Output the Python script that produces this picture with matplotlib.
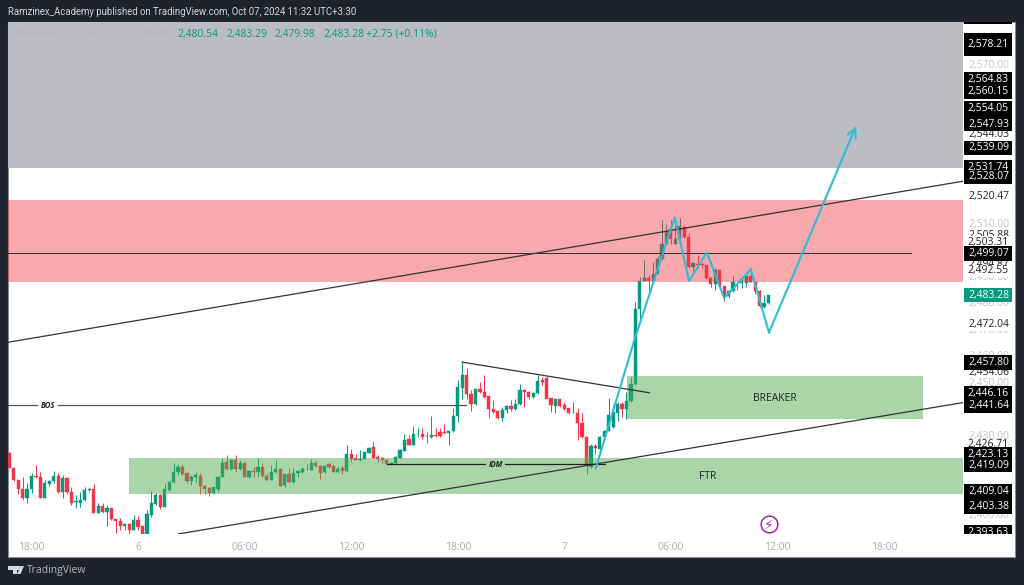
import matplotlib
matplotlib.use("Agg")
import matplotlib.pyplot as plt
from matplotlib.patches import Rectangle, Polygon

# ---- data (15 min ETH/USDT candles) ----
opens = [2423.5,2418.0,2413.4,2409.9,2406.8,2410.0,2415.1,2414.6,2406.8,2411.9,2413.1,2415.1,2408.7,2414.0,2409.0,2405.2,2404.9,2405.8,2409.6,2410.2,
 2401.0,2403.5,2401.3,2402.7,2398.5,2398.0,2396.2,2396.7,2394.7,2398.3,2396.0,2392.7,2400.2,2404.3,2407.7,2403.3,2409.6,2412.5,2416.3,2418.2,
 2415.9,2413.1,2414.4,2415.0,2411.2,2410.5,2408.6,2410.2,2414.6,2420.1,2417.4,2420.9,2417.6,2419.9,2414.6,2416.8,2416.3,2418.4,2415.0,2413.6,
 2416.3,2417.5,2411.5,2415.5,2412.5,2416.0,2416.6,2417.4,2417.3,2420.0,2418.7,2416.3,2419.3,2418.7,2416.5,2417.8,2416.8,2423.4,2421.8,2421.0,
 2421.3,2423.8,2425.8,2422.2,2421.7,2420.9,2419.4,2419.9,2421.9,2424.4,2428.9,2426.7,2430.7,2431.0,2430.0,2429.5,2430.5,2431.4,2431.4,2431.1,
 2431.9,2437.7,2448.3,2453.0,2446.1,2442.3,2447.8,2446.8,2445.1,2440.1,2439.4,2436.7,2439.8,2441.5,2440.1,2442.0,2447.4,2446.8,2444.9,2446.4,
 2451.4,2451.8,2444.5,2441.5,2444.0,2441.7,2440.5,2438.8,2438.9,2435.0,2429.5,2418.2,2426.2,2425.3,2429.5,2432.0,2433.5,2438.8,2442.3,2440.1,
 2443.3,2449.9,2478.2,2488.7,2489.7,2488.6,2491.5,2496.8,2502.8,2508.2,2502.8,2504.7,2509.1,2505.3,2494.0,2495.2,2495.2,2494.6,2489.8,2487.4,
 2492.7,2486.7,2482.9,2484.8,2486.7,2487.9,2487.9,2490.5,2488.3,2484.7,2478.9,2480.4]
highs = [2424.1,2418.4,2413.6,2414.6,2412.1,2415.9,2419.0,2416.5,2413.4,2413.4,2416.9,2416.2,2415.3,2414.4,2410.6,2407.7,2409.0,2410.9,2410.5,2411.9,
 2404.6,2404.8,2403.9,2402.7,2398.5,2398.9,2397.0,2397.0,2400.2,2399.8,2396.0,2402.0,2409.3,2408.6,2408.1,2411.9,2412.8,2419.7,2419.4,2419.4,
 2416.2,2415.3,2416.3,2416.2,2411.5,2410.9,2410.9,2414.9,2421.6,2422.8,2421.2,2422.8,2420.9,2420.2,2417.1,2418.2,2421.9,2419.9,2415.9,2419.0,
 2420.9,2417.8,2415.6,2417.8,2417.8,2417.0,2418.4,2419.3,2421.2,2420.5,2418.8,2419.0,2419.9,2419.3,2418.7,2418.7,2426.8,2425.3,2423.4,2424.7,
 2424.1,2426.0,2428.2,2422.8,2422.2,2421.2,2420.3,2422.4,2425.0,2431.0,2430.4,2433.8,2432.9,2432.9,2431.6,2437.5,2432.9,2433.1,2434.5,2431.9,
 2440.8,2451.2,2458.0,2455.6,2447.6,2448.0,2450.5,2453.0,2445.2,2443.6,2439.8,2441.1,2441.7,2443.6,2444.2,2449.9,2447.8,2447.1,2446.8,2453.0,
 2452.4,2452.7,2444.5,2444.2,2444.2,2443.0,2440.5,2443.0,2440.5,2438.6,2429.5,2427.2,2427.2,2430.0,2432.3,2444.6,2441.7,2443.0,2443.0,2446.8,
 2452.4,2480.8,2490.2,2496.5,2490.8,2495.9,2498.0,2511.9,2510.4,2511.9,2509.7,2512.3,2509.4,2506.8,2495.9,2498.4,2495.5,2494.6,2490.2,2493.7,
 2493.0,2486.9,2485.2,2490.5,2488.3,2490.2,2490.7,2492.7,2488.7,2485.2,2483.3,2483.5]
lows = [2418.0,2413.1,2408.3,2405.8,2404.9,2408.6,2414.0,2406.8,2406.5,2411.1,2412.1,2408.6,2406.5,2408.3,2403.9,2402.7,2403.3,2405.6,2409.0,2400.8,
 2400.8,2401.0,2396.0,2398.3,2393.2,2394.5,2394.7,2392.6,2394.5,2394.7,2392.7,2392.7,2399.3,2403.9,2402.3,2403.3,2409.3,2412.1,2415.3,2415.3,
 2412.4,2411.5,2412.7,2408.3,2408.3,2407.3,2408.1,2409.0,2414.4,2417.2,2417.1,2416.5,2417.1,2414.4,2414.2,2414.4,2414.6,2414.6,2413.4,2413.4,
 2416.1,2411.1,2410.6,2412.5,2412.1,2414.6,2416.1,2417.1,2417.1,2418.4,2413.9,2416.1,2418.0,2416.4,2416.4,2415.6,2416.6,2420.3,2420.8,2420.7,
 2421.2,2423.7,2421.8,2420.3,2419.7,2419.2,2419.2,2419.4,2421.8,2424.3,2426.5,2426.5,2429.5,2429.1,2427.5,2429.4,2429.7,2429.7,2430.7,2426.8,
 2431.6,2435.4,2444.0,2444.2,2439.6,2441.7,2446.5,2444.6,2436.7,2438.9,2436.4,2435.8,2438.9,2439.6,2439.8,2441.7,2441.1,2444.2,2444.4,2446.1,
 2449.3,2444.0,2439.2,2438.6,2441.1,2439.8,2438.3,2438.6,2428.7,2429.4,2415.6,2417.8,2423.4,2424.1,2429.1,2431.8,2432.9,2435.8,2437.3,2436.3,
 2443.0,2449.5,2474.4,2488.6,2483.6,2488.4,2491.2,2496.5,2502.5,2502.8,2502.5,2504.4,2505.1,2493.7,2492.5,2493.7,2493.7,2489.6,2486.4,2485.4,
 2486.4,2481.1,2482.4,2484.5,2485.2,2486.2,2486.4,2488.1,2483.9,2478.9,2478.6,2480.1]
closes = [2418.0,2413.4,2409.9,2406.5,2410.0,2415.1,2414.4,2406.8,2412.1,2413.1,2415.1,2408.7,2414.0,2409.0,2404.9,2405.4,2405.8,2409.6,2410.2,2401.0,
 2403.5,2401.3,2402.7,2398.5,2398.0,2396.1,2396.7,2394.7,2398.3,2395.5,2392.7,2400.5,2404.6,2407.7,2403.3,2410.0,2412.5,2416.4,2418.2,2415.6,
 2413.0,2414.4,2415.3,2411.2,2410.0,2408.6,2410.6,2414.6,2419.9,2417.4,2420.9,2417.5,2419.9,2414.6,2416.8,2416.3,2418.4,2414.9,2413.6,2416.4,
 2417.5,2411.3,2415.5,2412.7,2416.0,2416.8,2417.4,2417.5,2419.9,2418.7,2416.1,2418.7,2418.4,2416.5,2417.4,2416.8,2423.4,2421.5,2421.0,2421.2,
 2423.9,2425.7,2421.9,2421.4,2420.9,2419.4,2420.0,2422.1,2424.6,2428.7,2426.7,2430.7,2431.0,2429.6,2429.9,2430.5,2429.9,2429.9,2431.1,2431.9,
 2437.7,2448.4,2453.0,2445.9,2442.3,2447.8,2446.8,2444.9,2440.1,2439.2,2436.7,2439.8,2441.5,2440.1,2442.0,2447.4,2446.8,2444.9,2446.4,2450.9,
 2450.5,2444.2,2441.7,2444.0,2441.5,2440.2,2438.6,2438.9,2434.8,2429.5,2419.0,2426.2,2425.7,2429.7,2432.0,2437.9,2439.2,2442.3,2440.4,2443.3,
 2449.9,2478.2,2488.6,2489.7,2488.7,2491.5,2496.8,2502.8,2507.5,2504.7,2504.7,2509.5,2505.3,2494.0,2495.5,2494.6,2494.6,2489.8,2487.4,2492.7,
 2486.7,2482.9,2484.8,2488.2,2486.9,2488.4,2490.5,2488.3,2484.7,2479.1,2480.4,2483.3]

time_ticks = [5, 29, 53, 77, 101, 125, 149, 173, 197]
time_labels = ["18:00", "6", "06:00", "12:00", "18:00", "7", "06:00", "12:00", "18:00"]

gray_zone = (2531.3, 2600.0)
red_zone = (2488.2, 2519.2)
breaker_zone = (139.1, 205.9, 2436.4, 2452.7)
ftr_zone = (27.0, 216.0, 2408.1, 2421.6)

trend1_x, trend1_y = [-0.3, 214.8], [2465.5, 2526.4]
trend2_x, trend2_y = [38.0, 214.8], [2393.0, 2442.7]
hline_x, hline_y = [-0.3, 203.1], [2499.07, 2499.07]
wedge_x, wedge_y = [102.0, 144.2], [2458.0, 2446.4]
bos_price = 2441.7
bos_segments = [(-0.3, 6.2), (11.0, 102.9)]
idm_price = 2419.3
idm_segments = [(85.0, 107.2), (111.7, 134.2)]

path_x = [132.1, 140.7, 149.9, 153.1, 157.1, 161.0, 167.0, 171.1]
path_y = [2417.9, 2465.9, 2512.8, 2488.6, 2499.5, 2482.2, 2493.1, 2469.2]
arrow_end = (190.7, 2547.2)

grey_ticks = [2570, 2510, 2490, 2480, 2470, 2460, 2450, 2440, 2430, 2410, 2400]
plain_labels = [2544.03, 2520.47, 2505.88, 2503.31, 2494.87, 2492.55, 2472.04, 2454.06, 2426.71]
black_labels = [2578.21, 2564.83, 2560.15, 2554.05, 2547.93, 2539.09, 2531.74, 2528.07,
                2499.07, 2457.80, 2446.16, 2441.64, 2423.13, 2419.09, 2409.04, 2403.38, 2393.63]
hidden_boxes = [2588.40, 2579.60, 2576.30, 2551.20]
last_price = 2483.28
ohlc_labels = ["2,480.54", "2,483.29", "2,479.98", "2,483.28", "+2.75 (+0.11%)"]
ohlc_px = [177, 226, 274, 323, 366]

# ---- style ----
W, H = 1024, 585
BG = "#1e222d"
UP = "#089981"
DOWN = "#f23645"
FONT = "Open Sans"
plt.rcParams["font.family"] = [FONT, "DejaVu Sans"]


def fx(x):
    return x / W


def fy(y):
    return 1 - y / H


def box(l, t, r, b):
    return [fx(l), fy(b), (r - l) / W, (b - t) / H]


fig = plt.figure(figsize=(W / 100, H / 100), dpi=100, facecolor=BG)
fig.add_artist(Rectangle((fx(8), fy(556.5)), 1007 / W, 534.5 / H, transform=fig.transFigure,
                         facecolor="white", edgecolor="#8a8d96", linewidth=0.8, zorder=-5))

ax = fig.add_axes(box(8, 22, 963, 534), facecolor="none")
ax.set_xlim(-0.3, 214.8)
ax.set_ylim(2393.0, 2586.6)
for s in ax.spines.values():
    s.set_visible(False)
ax.set_yticks([])
ax.set_xticks(time_ticks)
ax.set_xticklabels(time_labels, fontsize=7.5, color="#a8abb4")
ax.tick_params(axis="x", length=0, pad=6)

# candles
xs = list(range(len(opens)))
cols = [UP if c >= o else DOWN for o, c in zip(opens, closes)]
ax.vlines(xs, lows, highs, colors=cols, linewidth=0.7, zorder=2)
ax.bar(xs, [abs(c - o) for o, c in zip(opens, closes)], bottom=[min(o, c) for o, c in zip(opens, closes)],
       width=0.72, color=cols, linewidth=0.3, edgecolor=cols, zorder=2)

# zones
ax.axhspan(gray_zone[0], gray_zone[1], facecolor="#bcbdc3", edgecolor="none", zorder=1)
ax.axhspan(red_zone[0], red_zone[1], facecolor=DOWN, alpha=0.43, edgecolor="none", zorder=3)
for z in (breaker_zone, ftr_zone):
    ax.add_patch(Rectangle((z[0], z[2]), z[1] - z[0], z[3] - z[2], facecolor="#4fa94c", alpha=0.48,
                           edgecolor="none", zorder=3))

# lines
LINE = "#333333"
ax.plot(trend1_x, trend1_y, color=LINE, lw=0.9, zorder=4)
ax.plot(trend2_x, trend2_y, color=LINE, lw=0.9, zorder=4)
ax.plot(hline_x, hline_y, color=LINE, lw=0.7, zorder=4)
ax.plot(wedge_x, wedge_y, color=LINE, lw=0.9, zorder=4)
for a, b in bos_segments:
    ax.plot([a, b], [bos_price, bos_price], color="#555555", lw=0.9, zorder=4)
for a, b in idm_segments:
    ax.plot([a, b], [idm_price, idm_price], color="#222222", lw=0.9, zorder=4)
ax.text(8.6, bos_price, "BOS", fontsize=5.5, style="italic", weight="bold", color="#222222",
        ha="center", va="center", zorder=5)
ax.text(109.5, idm_price, "IDM", fontsize=5.5, style="italic", weight="bold", color="#222222",
        ha="center", va="center", zorder=5)
ax.text(172.5, 2444.4, "BREAKER", fontsize=7.5, color="#222222", ha="center", va="center", zorder=5)
ax.text(157.2, 2414.9, "FTR", fontsize=7.5, color="#222222", ha="center", va="center", zorder=5)

# projected path
BLUE = "#2dbdd6"
ax.plot(path_x, path_y, color=BLUE, lw=1.5, zorder=6, solid_joinstyle="miter")
ax.annotate("", xy=arrow_end, xytext=(path_x[-1], path_y[-1]), zorder=6,
            arrowprops=dict(arrowstyle="->", color=BLUE, lw=1.5, mutation_scale=16, shrinkA=0, shrinkB=0))

# event marker
ax.plot([171], [2396.7], marker="o", ms=12, mfc="white", mec="#9c27b0", mew=1.1, zorder=6, clip_on=False)
ax.text(171, 2396.5, "\u26a1", fontsize=9.5, color="#9c27b0", ha="center", va="center", zorder=7,
        family="DejaVu Sans")

# header text in the pane
ax.text(0.0075, 0.9765, "Ethereum / TetherUS, 15, BINANCE  O", transform=ax.transAxes, fontsize=7.5,
        color="#b5b6bc", va="center", zorder=5)
for s, px in zip(ohlc_labels, ohlc_px):
    fig.text(fx(px), fy(34), s, fontsize=7.5, color=UP, va="center", zorder=10)

# price scale
sc = fig.add_axes(box(963, 22, 1015, 534), facecolor="none")
sc.set_xlim(0, 1)
sc.set_ylim(ax.get_ylim())
sc.axis("off")
BOXH = 5.4
MASKH = 4.4


def fmt(v):
    return f"{v:,.2f}"


for v in grey_ticks:
    sc.text(0.49, v, fmt(v), fontsize=7.5, color="#c3c5cc", ha="center", va="center", clip_on=True, zorder=1)
for i, v in enumerate(plain_labels):
    # each label masks the ones drawn before it, as on the TradingView price scale
    sc.add_patch(Rectangle((0.02, v - MASKH / 2), 0.92, MASKH, facecolor="white", edgecolor="none", zorder=2 + i * 0.02))
    sc.text(0.49, v, fmt(v), fontsize=7.5, color="#222222", ha="center", va="center", clip_on=True,
            zorder=2.01 + i * 0.02)
for v in hidden_boxes:
    sc.add_patch(Rectangle((0.02, v - BOXH / 2), 0.92, BOXH, facecolor="black", edgecolor="none", zorder=3))
for v in black_labels:
    sc.add_patch(Rectangle((0.02, v - BOXH / 2), 0.92, BOXH, facecolor="black", edgecolor="none", zorder=3))
for v in black_labels:
    sc.text(0.49, v, fmt(v), fontsize=7.5, color="white", ha="center", va="center", clip_on=True, zorder=4)
sc.add_patch(Rectangle((0.02, last_price - BOXH / 2), 0.92, BOXH, facecolor=UP, edgecolor="none", zorder=5))
sc.text(0.49, last_price, fmt(last_price), fontsize=7.5, color="white", ha="center", va="center", zorder=6)

# page chrome
fig.text(fx(8), fy(12), "Ramzinex_Academy published on TradingView.com, Oct 07, 2024 11:32 UTC+3:30",
         fontsize=6.9, color="#d1d4dc", va="center", family="Roboto")
fig.text(fx(27), fy(570), "TradingView", fontsize=7.5, color="#b2b5be", va="center")
logo = "#d8dae0"
fig.add_artist(Polygon([(fx(8), fy(566)), (fx(17), fy(566)), (fx(17), fy(574)), (fx(13), fy(574)),
                        (fx(13), fy(570)), (fx(8), fy(570))], closed=True, transform=fig.transFigure,
                       facecolor=logo, edgecolor="none"))
fig.add_artist(Polygon([(fx(20.5), fy(566)), (fx(24), fy(566)), (fx(20.5), fy(574)), (fx(17), fy(574))],
                       closed=True, transform=fig.transFigure, facecolor=logo, edgecolor="none"))
fig.add_artist(Rectangle((fx(17.2), fy(569.6)), 2.8 / W, 3.2 / H, transform=fig.transFigure,
                         facecolor=logo, edgecolor="none"))

fig.savefig("out.png", dpi=100, facecolor=BG)
